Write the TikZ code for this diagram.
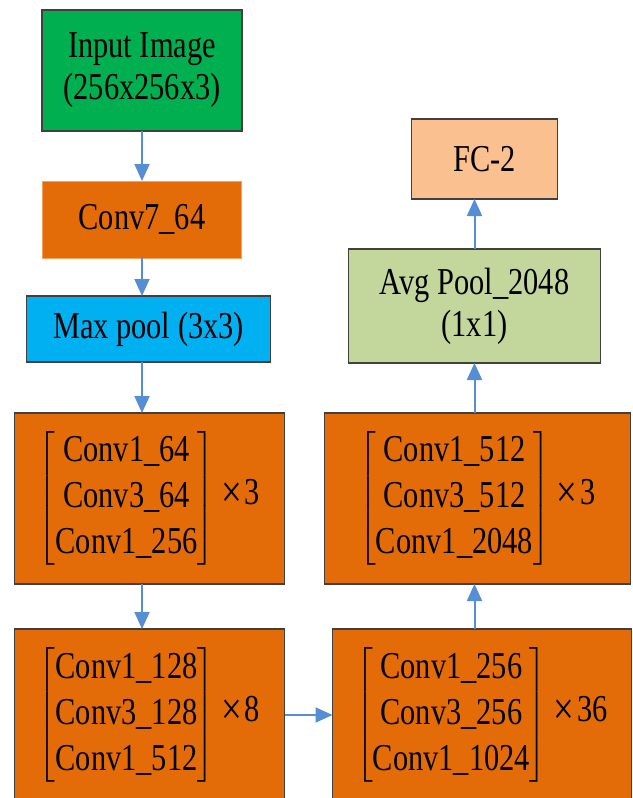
\documentclass[tikz,border=0pt]{standalone}
\usepackage{amsmath}
\usepackage{fontspec}
\setmainfont{Liberation Serif}[FakeStretch=0.8]
\usetikzlibrary{arrows.meta,positioning}
\definecolor{imggreen}{HTML}{00B050}
\definecolor{convorange}{HTML}{E36C09}
\definecolor{convline}{HTML}{F6A25E}
\definecolor{poolcyan}{HTML}{00B0F0}
\definecolor{avggreen}{HTML}{C3D69B}
\definecolor{fcorange}{HTML}{FAC090}
\definecolor{blkline}{HTML}{404040}
\definecolor{arrowblue}{HTML}{558ED5}
\newcommand{\blockrep}[4]{$\left[\def\arraystretch{1.1}\begin{tabular}{@{}c@{}}#1\\#2\\#3\end{tabular}\right]$\hspace{7pt}\raisebox{-3pt}{\fontsize{46}{46}\selectfont ×}\hspace{3pt}#4}

\begin{document}
\begin{tikzpicture}[x=1pt, y=1pt, node distance=50pt,
    blk/.style={draw=blkline, line width=1.5pt, rectangle, inner sep=0pt, outer sep=0pt,
                align=center, font=\fontsize{38}{42}\selectfont},
    flow/.style={-{Triangle[width=15pt,length=17pt]}, line width=2pt, draw=arrowblue}]
    \useasboundingbox (0,0) rectangle (632,-798);

    % left column
    \node[blk, fill=imggreen, minimum width=200pt, minimum height=121pt] (I) at (142,-70.5) {Input Image\\(256x256x3)};
    \node[blk, draw=convline, line width=1pt, fill=convorange, minimum width=199pt, minimum height=77pt, below=50pt of I] (C7) {Conv7\_64};
    \node[blk, fill=poolcyan, minimum width=244pt, minimum height=66pt, below=38pt of C7, xshift=6.5pt] (MP) {Max pool (3x3)};
    \node[blk, fill=convorange, minimum width=270pt, minimum height=171pt, below=51pt of MP, xshift=1pt] (B1) {\blockrep{Conv1\_64}{Conv3\_64}{Conv1\_256}{3}};
    \node[blk, fill=convorange, minimum width=270pt, minimum height=172pt, below=45pt of B1] (B2) {\blockrep{Conv1\_128}{Conv3\_128}{Conv1\_512}{8}};

    % right column
    \node[blk, fill=convorange, minimum width=299pt, minimum height=172pt, right=48pt of B2] (B3) {\blockrep{Conv1\_256}{Conv3\_256}{Conv1\_1024}{36}};
    \node[blk, fill=convorange, minimum width=306pt, minimum height=171pt, above=45pt of B3, xshift=-4.5pt] (B4) {\blockrep{Conv1\_512}{Conv3\_512}{Conv1\_2048}{3}};
    \node[blk, fill=avggreen, minimum width=252pt, minimum height=114pt, above=50pt of B4, xshift=-3pt] (AP) {Avg Pool\_2048\\(1x1)};
    \node[blk, fill=fcorange, minimum width=146pt, minimum height=80pt, above=50pt of AP, xshift=10pt] (FC) {FC-2};

    \draw[flow] (I) -- (C7);
    \draw[flow] (C7.south) -- (C7.south |- MP.north);
    \draw[flow] (I.south |- MP.south) -- (I.south |- B1.north);
    \draw[flow] (I.south |- B1.south) -- (I.south |- B2.north);
    \draw[flow] (B2.east) -- (B3.west);
    \draw[flow] (AP.south |- B3.north) -- (AP.south |- B4.south);
    \draw[flow] (AP.south |- B4.north) -- (AP.south);
    \draw[flow] (AP.north) -- (AP.north |- FC.south);
\end{tikzpicture}
\end{document}
